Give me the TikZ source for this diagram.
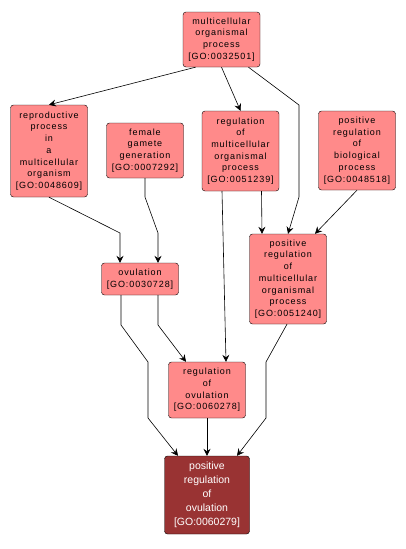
\documentclass[tikz,border=0pt]{standalone}
\usepackage{fontspec}
\setmainfont{Liberation Sans}
\usetikzlibrary{arrows.meta}
\usetikzlibrary{shapes}

\definecolor{termLight}{RGB}{255,138,138}
\definecolor{termDark}{RGB}{153,51,51}

\begin{document}
\begin{tikzpicture}[x = 1pt, y = -1pt]
	\tikzstyle{EdgeStyle} = [draw, line width = 0.6pt, -{Stealth[length = 7pt, width = 7pt, inset = 2.5pt]}]
	\tikzstyle{lightStyle}=[shape = rectangle, rounded corners = 3pt, draw, fill = termLight, minimum width = 77pt, inner sep = 0pt, align = center, font = \fontsize{9}{11.7}\selectfont\addfontfeature{LetterSpace=10}]
	\tikzstyle{darkStyle}=[shape = rectangle, rounded corners = 3pt, draw, fill = termDark, text = white, minimum width = 85pt, inner sep = 0pt, align = center, font = \fontsize{10.5}{14}\selectfont]
	\fill[white] (0,0) rectangle (406,549);
	\useasboundingbox (0,0) rectangle (406,549);
	\node[lightStyle, minimum height = 55pt] (v0) at (221.5, 39.5) {multicellular\\organismal\\process\\{[GO:0032501]}};
	\node[lightStyle, minimum height = 92pt] (v1) at (49, 151) {reproductive\\process\\in\\a\\multicellular\\organism\\{[GO:0048609]}};
	\node[lightStyle, minimum height = 55pt] (v2) at (145, 150.5) {female\\gamete\\generation\\{[GO:0007292]}};
	\node[lightStyle, minimum height = 80pt] (v3) at (240.5, 151) {regulation\\of\\multicellular\\organismal\\process\\{[GO:0051239]}};
	\node[lightStyle, minimum height = 79pt] (v4) at (357, 150.5) {positive\\regulation\\of\\biological\\process\\{[GO:0048518]}};
	\node[lightStyle, minimum height = 32pt] (v5) at (140, 279) {ovulation\\{[GO:0030728]}};
	\node[lightStyle, minimum height = 90pt] (v6) at (288, 279) {positive\\regulation\\of\\multicellular\\organismal\\process\\{[GO:0051240]}};
	\node[lightStyle, minimum height = 56pt] (v7) at (207, 390) {regulation\\of\\ovulation\\{[GO:0060278]}};
	\node[darkStyle, minimum height = 78pt] (v8) at (207, 495) {positive\\regulation\\of\\ovulation\\{[GO:0060279]}};
	\draw[EdgeStyle] ([xshift=-26pt]v0.south) -- (v1.north);
	\draw[EdgeStyle] (v0.south) -- (v3.north);
	\draw[EdgeStyle] ([xshift=27pt]v0.south) -- (299,105) -- (299,197) -- (v6.north);
	\draw[EdgeStyle] ([xshift=21pt]v3.south) -- ([xshift=-26pt]v6.north);
	\draw[EdgeStyle] (v4.south) -- ([xshift=27pt]v6.north);
	\draw[EdgeStyle] (v1.south) -- (120,233) -- ([xshift=-20pt]v5.north);
	\draw[EdgeStyle] (v2.south) -- (145,197) -- (158,233) -- ([xshift=18pt]v5.north);
	\draw[EdgeStyle] ([xshift=-18.5pt]v3.south) -- ([xshift=19pt]v7.north);
	\draw[EdgeStyle] ([xshift=18pt]v5.south) -- (158,325) -- ([xshift=-21pt]v7.north);
	\draw[EdgeStyle] ([xshift=-19pt]v5.south) -- (121,325) -- (148,362) -- (148,418) -- ([xshift=-29pt]v8.north);
	\draw[EdgeStyle] (v7.south) -- (v8.north);
	\draw[EdgeStyle] ([xshift=-1pt]v6.south) -- (266,362) -- (266,418) -- ([xshift=30pt]v8.north);
\end{tikzpicture}
\end{document}
